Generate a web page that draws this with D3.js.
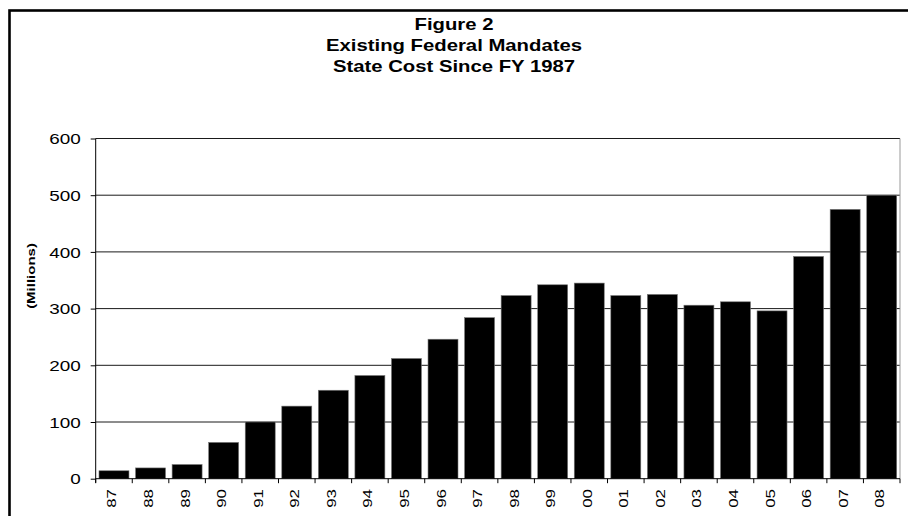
<!DOCTYPE html>
<html>
<head>
<meta charset="utf-8">
<script src="https://cdn.jsdelivr.net/npm/d3@7"></script>
<style>
  html, body { margin: 0; padding: 0; background: #fff; }
  svg { display: block; font-family: "Liberation Sans", Arial, sans-serif; }
</style>
</head>
<body>
<svg id="chart" width="908" height="516"></svg>
<script>
// Fiscal years (two-digit labels) and state cost in millions of dollars
const years = ["87", "88", "89", "90", "91", "92", "93", "94", "95", "96", "97",
               "98", "99", "00", "01", "02", "03", "04", "05", "06", "07", "08"];
const stateCost = [14, 19, 25, 64, 100, 128, 156, 182, 212, 246, 284,
                   323, 342, 345, 323, 325, 306, 312, 296, 392, 475, 500];
const yTicks = [0, 100, 200, 300, 400, 500, 600];
const titleLines = ["Figure 2", "Existing Federal Mandates", "State Cost Since FY 1987"];
const yAxisTitle = "(Millions)";

const svg = d3.select("#chart");
const plot = { left: 95.7, right: 900, top: 138.5, bottom: 478.7 };
const stretch = 1.35; // wide text rendering along the baseline

// Outer frame
svg.append("rect")
  .attr("x", 9.5).attr("y", 10.5)
  .attr("width", 930).attr("height", 540)
  .attr("fill", "none").attr("stroke", "#000").attr("stroke-width", 2.6);

// Title
const title = svg.append("g");
titleLines.forEach((t, i) => {
  title.append("text")
    .attr("transform", `translate(454,${29.5 + i * 21}) scale(1.27,1)`)
    .attr("text-anchor", "middle")
    .attr("font-size", 16)
    .attr("font-weight", "bold")
    .attr("fill", "#000")
    .text(t);
});

const x = d3.scaleBand()
  .domain(years)
  .range([plot.left, plot.right])
  .paddingInner(0.18)
  .paddingOuter(0.09);

const y = d3.scaleLinear()
  .domain([0, 600])
  .range([plot.bottom, plot.top]);

// Gridlines
svg.append("g")
  .selectAll("line")
  .data(yTicks.filter(d => d > 0))
  .join("line")
  .attr("x1", plot.left).attr("x2", plot.right)
  .attr("y1", d => y(d)).attr("y2", d => y(d))
  .attr("stroke", "#1a1a1a").attr("stroke-width", 1);

// Right edge of plot area
svg.append("line")
  .attr("x1", plot.right).attr("x2", plot.right)
  .attr("y1", plot.top).attr("y2", plot.bottom)
  .attr("stroke", "#999").attr("stroke-width", 1);

// Bars
svg.append("g")
  .selectAll("rect")
  .data(years.map((yr, i) => ({ yr, v: stateCost[i] })))
  .join("rect")
  .attr("x", d => x(d.yr))
  .attr("width", x.bandwidth())
  .attr("y", d => y(d.v))
  .attr("height", d => y(0) - y(d.v))
  .attr("fill", "#000")
  .attr("stroke", "#777")
  .attr("stroke-width", 0.6);

// Y axis
const yAxis = svg.append("g")
  .attr("transform", `translate(${plot.left},0)`)
  .call(d3.axisLeft(y).tickValues(yTicks).tickSize(5).tickPadding(0));
yAxis.select(".domain").attr("stroke", "#000").attr("d", `M0,${plot.top}V${plot.bottom + 4}`);
yAxis.selectAll(".tick line").attr("stroke", "#000");
yAxis.selectAll(".tick text")
  .attr("x", null).attr("dy", null)
  .attr("transform", "translate(-15,5.2) scale(" + stretch + ",1)")
  .attr("text-anchor", "end")
  .attr("font-size", 14)
  .attr("font-family", "'Liberation Sans', Arial, sans-serif")
  .attr("fill", "#000");

// X axis: ticks on band boundaries
const xAxisG = svg.append("g");
xAxisG.append("line")
  .attr("x1", plot.left).attr("x2", plot.right)
  .attr("y1", plot.bottom).attr("y2", plot.bottom)
  .attr("stroke", "#000");
const step = x.step();
const boundaries = d3.range(years.length + 1).map(i => plot.left + i * step);
xAxisG.selectAll("line.tk")
  .data(boundaries)
  .join("line")
  .attr("class", "tk")
  .attr("x1", d => d).attr("x2", d => d)
  .attr("y1", plot.bottom).attr("y2", plot.bottom + 4.5)
  .attr("stroke", "#000");
xAxisG.selectAll("text")
  .data(years)
  .join("text")
  .attr("transform", d => `translate(${x(d) + x.bandwidth() / 2 + 2.5},489) rotate(-90) scale(1.3,1)`)
  .attr("text-anchor", "end")
  .attr("font-size", 13)
  .attr("fill", "#000")
  .text(d => d);

// Y axis title
svg.append("text")
  .attr("transform", `translate(34.5,276) rotate(-90) scale(1.5,1)`)
  .attr("text-anchor", "middle")
  .attr("font-size", 10)
  .attr("font-weight", "bold")
  .attr("fill", "#000")
  .text(yAxisTitle);
</script>
</body>
</html>
